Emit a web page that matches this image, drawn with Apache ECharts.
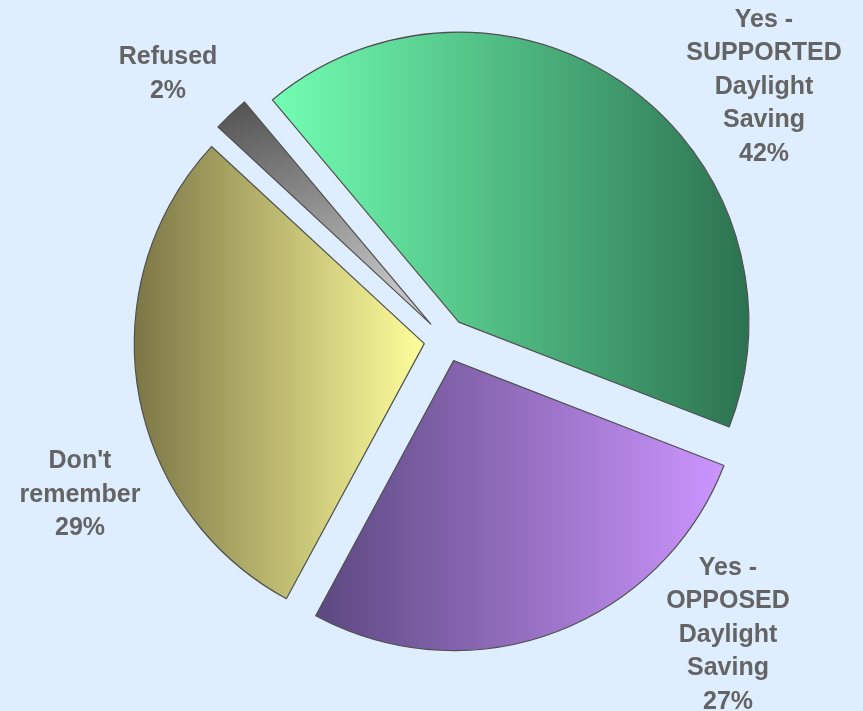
<!DOCTYPE html>
<html>
<head>
<meta charset="utf-8">
<script src="https://cdn.jsdelivr.net/npm/echarts@6/dist/echarts.min.js"></script>
<style>
  html, body { margin: 0; padding: 0; background: #dfeefe; }
  #chart { width: 863px; height: 711px; }
</style>
</head>
<body>
<div id="chart"></div>
<script>
// Survey answers: did you support Daylight Saving?
const categories = [
  'Yes -\nSUPPORTED\nDaylight\nSaving',
  'Yes -\nOPPOSED\nDaylight\nSaving',
  "Don't\nremember",
  'Refused'
];
const shares = [42, 27, 29, 2];

// Gradient stops per slice: [start colour, end colour, direction]
const sliceColours = [
  ['#72ffb3', '#2c7250', 'h'],
  ['#5c4880', '#cc95ff', 'h'],
  ['#7c7646', '#ffff9c', 'h'],
  ['#505050', '#c4c4c4', 'v']
];

// Label block centres (px) for each slice
const labelCentres = [
  [764, 87],
  [728, 635],
  [80, 495],
  [168, 74]
];

function grad(c) {
  return new echarts.graphic.LinearGradient(0, 0, c[2] === 'h' ? 1 : 0.3, c[2] === 'h' ? 0 : 1, [
    { offset: 0, color: c[0] },
    { offset: 1, color: c[1] }
  ]);
}

const labelFont = 'bold 25px "Liberation Sans", Arial, sans-serif';

const chart = echarts.init(document.getElementById('chart'), null, { renderer: 'canvas' });
chart.setOption({
  backgroundColor: '#dfeefe',
  animation: false,
  graphic: categories.map((name, i) => ({
    type: 'text',
    x: labelCentres[i][0],
    y: labelCentres[i][1],
    z: 10,
    style: {
      text: name + '\n' + shares[i] + '%',
      font: labelFont,
      fill: '#646464',
      lineHeight: 33.5,
      align: 'center',
      verticalAlign: 'middle'
    }
  })),
  series: [{
    type: 'pie',
    center: [446, 340],
    radius: 290,
    startAngle: 130,
    clockwise: true,
    selectedMode: 'multiple',
    selectedOffset: 22,
    emphasis: { disabled: true },
    label: { show: false },
    labelLine: { show: false },
    itemStyle: { borderColor: '#505050', borderWidth: 1.2 },
    data: categories.map((name, i) => ({
      name: name,
      value: shares[i],
      selected: true,
      itemStyle: { color: grad(sliceColours[i]) },
      select: { itemStyle: { color: grad(sliceColours[i]), borderColor: '#505050', borderWidth: 1.2 } }
    }))
  }]
});
</script>
</body>
</html>
